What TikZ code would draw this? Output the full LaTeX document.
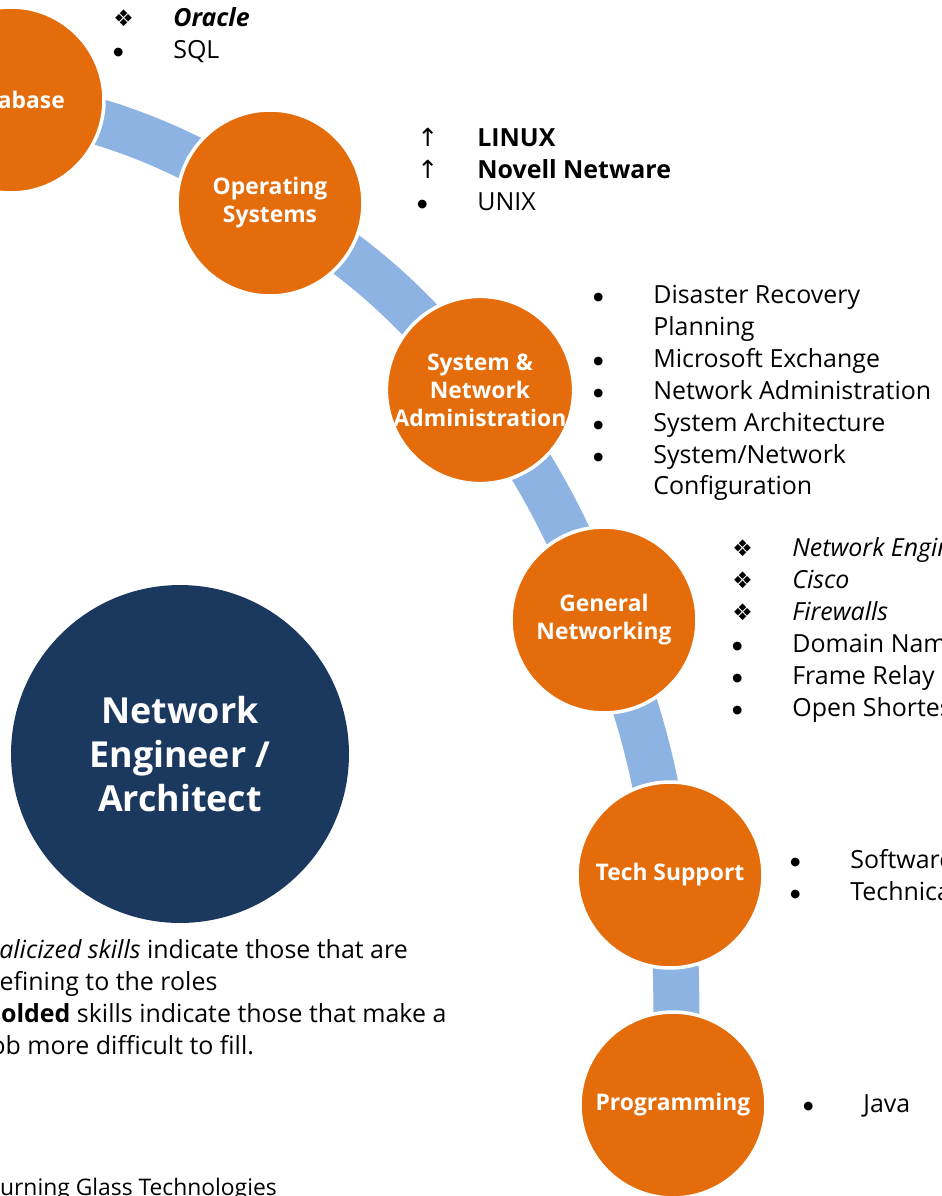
\documentclass[tikz,border=0pt]{standalone}
\usepackage{fontspec}
\setmainfont{Open Sans}
\newfontfamily\symfont{DejaVu Sans}
\usetikzlibrary{backgrounds}

\definecolor{skillorange}{HTML}{E46C0A}
\definecolor{rolenavy}{HTML}{1B385E}
\definecolor{pathblue}{HTML}{8DB3E2}

% one line of a skill list: marker, then text
\newlength{\skw}
\setlength{\skw}{1.2cm}
\newcommand{\skl}[2]{\strut\makebox[\skw][l]{#1}#2}
\newcommand{\dia}{{\symfont\fontsize{13}{13}\selectfont ❖}}
\newcommand{\upar}{{\symfont ↑}}
\newcommand{\dotb}{\raisebox{1.7pt}{\symfont\fontsize{6.5}{6.5}\selectfont ●}}

\begin{document}
\begin{tikzpicture}[
    x=0.02cm, y=-0.02cm,
    every node/.style={inner sep=0pt},
    skill/.style={
        circle,
        minimum size=3.72cm,
        fill=skillorange,
        draw=white,
        line width=2pt,
        text=white,
        align=center,
        font=\bfseries\fontsize{13}{15.9}\selectfont
    },
    role/.style={
        circle,
        minimum size=6.76cm,
        fill=rolenavy,
        text=white,
        align=center,
        font=\bfseries\fontsize{20.4}{24.9}\selectfont
    },
    link/.style={draw=pathblue, line width=0.92cm},
    list/.style={anchor=west, align=left, font=\fontsize{14.2}{18.14}\selectfont}
]

\useasboundingbox (0,0) rectangle (941,1196);
\clip (0,0) rectangle (941,1196);

% skill circles along the path
\node[skill] (db)   at (11,100)  {Database};
\node[skill] (os)   at (270,203) {Operating\\Systems};
\node[skill] (sna)  at (480,390) {System \&\\Network\\Administration};
\node[skill] (gen)  at (604,620) {General\\Networking};
\node[skill] (tech) at (670,875) {Tech Support};
\node[skill] (prog) at (673,1105) {Programming};

% role
\node[role] (role) at (180,754) {Network\\Engineer /\\Architect};

% connectors behind the circles
\begin{scope}[on background layer]
\draw[link] (db.center) to[bend left=10] (os.center);
\draw[link] (os.center) to[bend left=10] (sna.center);
\draw[link] (sna.center) to[bend left=7] (gen.center);
\draw[link] (gen.center) to[bend left=7] (tech.center);
\draw[link] (tech.center) to[bend left=4] (prog.center);
\end{scope}

% skill lists
\node[list] (dblist) at (113,36) {\skl{\dia}{\textbf{\textit{Oracle}}}\\ \skl{\dotb}{SQL}};
\node[list] (oslist) at (417,172) {\skl{\upar}{\textbf{LINUX}}\\ \skl{\upar}{\textbf{Novell Netware}}\\ \skl{\dotb}{UNIX}};
\node[list] (snalist) at (593,393) {\skl{\dotb}{Disaster Recovery}\\ \skl{}{Planning}\\ \skl{\dotb}{Microsoft Exchange}\\ \skl{\dotb}{Network Administration}\\ \skl{\dotb}{System Architecture}\\ \skl{\dotb}{System/Network}\\ \skl{}{Configuration}};
\node[list] (genlist) at (732,630) {\skl{\dia}{\textit{Network Engineering}}\\ \skl{\dia}{\textit{Cisco}}\\ \skl{\dia}{\textit{Firewalls}}\\ \skl{\dotb}{Domain Name System}\\ \skl{\dotb}{Frame Relay}\\ \skl{\dotb}{Open Shortest Path First}};
\node[list] (techlist) at (790,878) {\skl{\dotb}{Software}\\ \skl{\dotb}{Technical}};
\node[list] (proglist) at (803,1106) {\skl{\dotb}{Java}};

% key and source
\node[list] (key) at (-16,1000) {\strut\textit{Italicized skills} indicate those that are\\ \strut defining to the roles\\ \strut\textbf{Bolded} skills indicate those that make a\\ \strut job more difficult to fill.};
\node[list, font=\fontsize{13}{18.14}\selectfont] (source) at (-15,1189) {\strut Burning Glass Technologies};

\end{tikzpicture}
\end{document}
